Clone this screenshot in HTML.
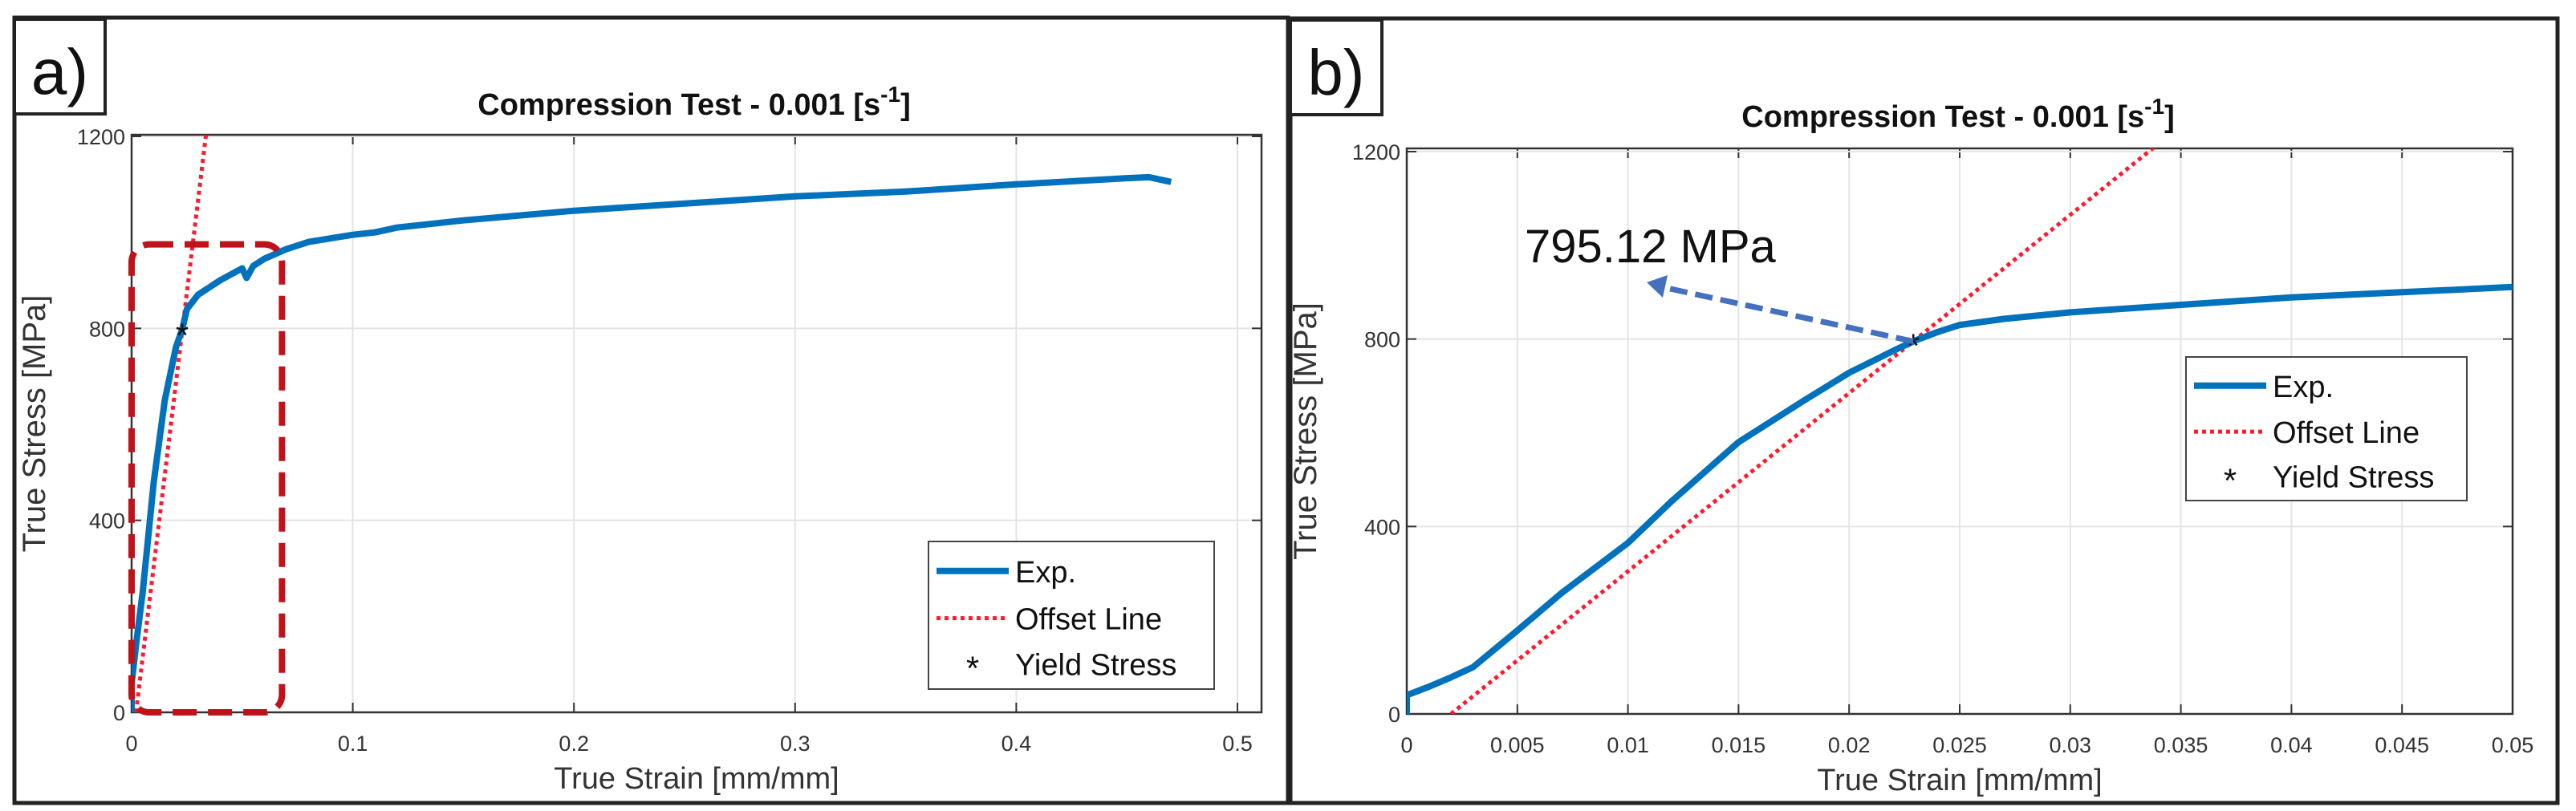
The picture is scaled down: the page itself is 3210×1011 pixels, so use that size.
<!DOCTYPE html>
<html><head><meta charset="utf-8"><style>
html,body{margin:0;padding:0;background:#fff;}
svg{display:block;font-family:"Liberation Sans",sans-serif;}
</style></head><body>
<svg id="fig" width="3210" height="1011" viewBox="0 0 3210 1011" xmlns="http://www.w3.org/2000/svg"></svg>
<script>
// Panel a data
const aStrain = [0,0,0.002,0.005,0.01,0.015,0.02,0.023,0.025,0.03,0.04,0.05,0.052,0.055,0.06,0.07,0.08,0.1,0.11,0.12,0.15,0.2,0.25,0.3,0.35,0.4,0.45,0.46,0.47];
const aStress = [0,60,140,250,480,650,760,800,840,870,900,925,905,930,945,965,980,995,1000,1010,1025,1045,1060,1075,1085,1100,1113,1115,1105];
// Panel b data
const bStrain = [0,0,0.001,0.002,0.003,0.005,0.007,0.01,0.012,0.015,0.018,0.02,0.022,0.023,0.024,0.025,0.027,0.03,0.035,0.04,0.045,0.05];
const bStress = [0,40,58,78,100,178,258,365,455,580,670,728,775,797,815,830,843,857,873,889,900,911];
// Offset line & yield point
const offsetStart = 0.002;
const offsetModulus = 38038;
const yieldStrain = 0.0229;
const yieldStress = 795.12;
const yTicks = [0,400,800,1200];
const aXTicks = [0,0.1,0.2,0.3,0.4,0.5];
const aXLabels = ["0","0.1","0.2","0.3","0.4","0.5"];
const bXTicks = [0,0.005,0.01,0.015,0.02,0.025,0.03,0.035,0.04,0.045,0.05];
const bXLabels = ["0","0.005","0.01","0.015","0.02","0.025","0.03","0.035","0.04","0.045","0.05"];

const NS="http://www.w3.org/2000/svg";
const svg=document.getElementById('fig');
function mk(tag,attrs,parent,text){const e=document.createElementNS(NS,tag);for(const k in attrs)e.setAttribute(k,attrs[k]);if(text!==undefined)e.textContent=text;(parent||svg).appendChild(e);return e;}

function panel(p){
  const g=mk('g',{});
  
  
  const fr=mk('rect',{x:p.fx,y:p.fy,width:p.fw,height:p.fh,fill:'none',stroke:'#222','stroke-width':5},g);
  
  const lb=mk('rect',{x:p.fx,y:p.fy+2,width:p.lw,height:118,fill:'#fff',stroke:'#222','stroke-width':4},g);
  
  const lt=mk('text',{x:p.fx+p.lw/2,y:p.fy+95,'font-size':80,'text-anchor':'middle',fill:'#111'},g,p.id+')');
  
  const X=v=>p.x0+(v-0)/p.xmax*(p.x1-p.x0);
  const Y=v=>p.y0-(v/1200)*(p.y0-p.y1);
  const t=mk('text',{x:p.tx,y:p.ty,'font-size':38,'font-weight':'bold','text-anchor':'middle',fill:'#111'},g);
  
  mk('tspan',{},t,'Compression Test - 0.001 [s');
  mk('tspan',{dy:-16,'font-size':28},t,'-1');
  mk('tspan',{dy:16},t,']');
  p.xt.forEach((v,i)=>{
    const l=mk('line',{x1:X(v),x2:X(v),y1:p.y0,y2:p.ytop,stroke:'#e4e4e4','stroke-width':2},g);
    
    mk('line',{x1:X(v),x2:X(v),y1:p.y0,y2:p.y0-12,stroke:'#333','stroke-width':2},g);
    mk('line',{x1:X(v),x2:X(v),y1:p.ytop,y2:p.ytop+12,stroke:'#333','stroke-width':2},g);
    const tx=mk('text',{x:X(v),y:p.y0+48,'font-size':27,'text-anchor':'middle',fill:'#333'},g,p.xl[i]);
    
  });
  yTicks.forEach(v=>{
    const l=mk('line',{x1:p.x0,x2:p.xr,y1:Y(v),y2:Y(v),stroke:'#e4e4e4','stroke-width':2},g);
    
    mk('line',{x1:p.x0,x2:p.x0+12,y1:Y(v),y2:Y(v),stroke:'#333','stroke-width':2},g);
    mk('line',{x1:p.xr,x2:p.xr-12,y1:Y(v),y2:Y(v),stroke:'#333','stroke-width':2},g);
    const ty=mk('text',{x:p.x0-8,y:Y(v)+10,'font-size':27,'text-anchor':'end',fill:'#333'},g,String(v));
    
  });
  const ax=mk('rect',{x:p.x0,y:p.ytop,width:p.xr-p.x0,height:p.y0-p.ytop,fill:'none',stroke:'#333','stroke-width':2.5},g);
  
  const xlab=mk('text',{x:(p.x0+p.xr)/2,y:p.y0+95,'font-size':38,'text-anchor':'middle',fill:'#333'},g,'True Strain [mm/mm]');
  
  const yc=(p.y0+p.ytop)/2;
  const ylab=mk('text',{x:p.ylx,y:yc,'font-size':40,'text-anchor':'middle',fill:'#333',transform:`rotate(-90 ${p.ylx} ${yc})`},g,'True Stress [MPa]');
  
  const cp=mk('clipPath',{id:'clip'+p.id},g);
  mk('rect',{x:p.x0,y:p.ytop,width:p.xr-p.x0,height:p.y0-p.ytop},cp);
  const pg=mk('g',{'clip-path':`url(#clip${p.id})`},g);
  const endStrain=offsetStart+1250/offsetModulus;
  const off=mk('line',{x1:X(offsetStart),y1:Y(0),x2:X(endStrain),y2:Y(1250),stroke:'#ff1a2e','stroke-width':5,'stroke-dasharray':'5 5'},pg);
  
  const d=p.sx.map((v,i)=>(i?'L':'M')+X(v).toFixed(1)+','+Y(p.sy[i]).toFixed(1)).join(' ');
  const ex=mk('path',{d:d,fill:'none',stroke:'#0072BD','stroke-width':p.lw2,'stroke-linejoin':'round'},pg);
  
  const st=mk('text',{x:X(yieldStrain),y:Y(yieldStress)+20,'font-size':42,'text-anchor':'middle',fill:'#111'},g,'*');
  
  const L=p.leg;
  const lg=mk('g',{},g);
  
  mk('rect',{x:L.x,y:L.y,width:L.w,height:L.h,fill:'#fff',stroke:'#444','stroke-width':2},lg);
  const rows=[L.y+L.h*0.2,L.y+L.h*0.52,L.y+L.h*0.83];
  mk('line',{x1:L.x+10,x2:L.x+100,y1:rows[0],y2:rows[0],stroke:'#0072BD','stroke-width':8},lg);
  mk('line',{x1:L.x+10,x2:L.x+100,y1:rows[1],y2:rows[1],stroke:'#ff1a2e','stroke-width':5,'stroke-dasharray':'5 5'},lg);
  mk('text',{x:L.x+55,y:rows[2]+20,'font-size':42,'text-anchor':'middle',fill:'#111'},lg,'*');
  ['Exp.','Offset Line','Yield Stress'].forEach((s,i)=>{
    const e=mk('text',{x:L.x+108,y:rows[i]+14,'font-size':38,fill:'#111'},lg,s);
    
  });
  return {g,X,Y};
}

const A=panel({id:'a',fx:18,fy:22,fw:1587,fh:979,lw:113,x0:164,x1:1542,xr:1572,xmax:0.5,y0:888,y1:170,ytop:168,
  tx:865,ty:143,ylx:56,xt:aXTicks,xl:aXLabels,sx:aStrain,sy:aStress,lw2:8,leg:{x:1157,y:675,w:356,h:184}});
const hb=mk('rect',{x:A.X(0),y:A.Y(975),width:A.X(0.068)-A.X(0),height:A.Y(0)-A.Y(975),rx:22,fill:'none',stroke:'#c0121a','stroke-width':8,'stroke-dasharray':'30 14'});



const B=panel({id:'b',fx:1608,fy:23,fw:1579,fh:978,lw:114,x0:1753,x1:3131,xr:3131,xmax:0.05,y0:890,y1:189,ytop:185,
  tx:2440,ty:158,ylx:1640,xt:bXTicks,xl:bXLabels,sx:bStrain,sy:bStress,lw2:8,leg:{x:2724,y:445,w:350,h:179}});
const an=mk('text',{x:1900,y:327,'font-size':58,fill:'#111'},B.g,yieldStress.toFixed(2)+' MPa');


const sx=B.X(yieldStrain),sy=B.Y(yieldStress);
const arr=mk('line',{x1:sx,y1:sy,x2:2072,y2:358,stroke:'#4470c0','stroke-width':7,'stroke-dasharray':'22 10'},B.g);


mk('polygon',{points:'2052,352 2078,343 2072,371',fill:'#4470c0'},B.g);
</script>
</body></html>
